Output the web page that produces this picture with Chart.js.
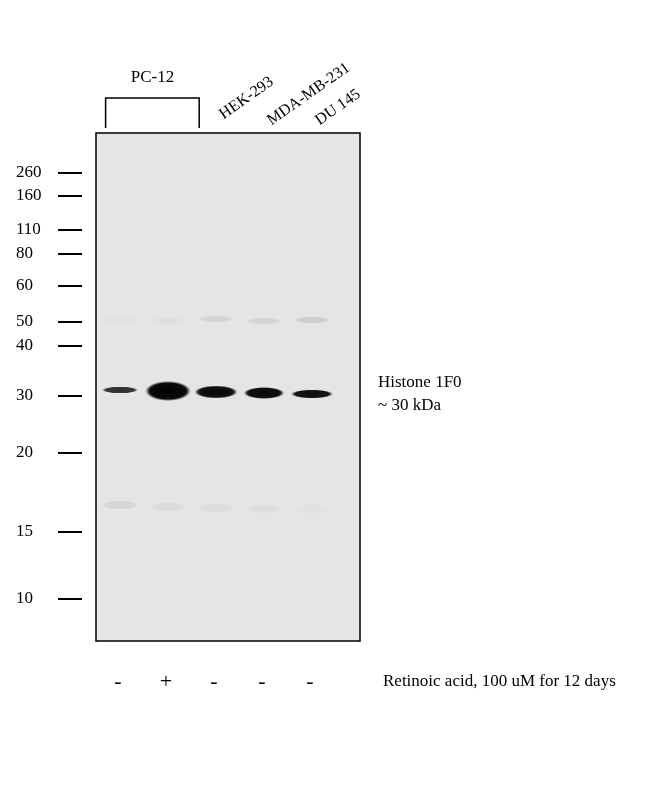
<!DOCTYPE html>
<html lang="en">
<head>
  <meta charset="UTF-8">
  <title>Histone 1F0 Western Blot</title>
  <script src="https://cdn.jsdelivr.net/npm/chart.js"></script>
  <style>
    body { margin: 0; background: #fff; }
    .chart-container { position: relative; width: 650px; height: 786px; }
  </style>
</head>
<body>
  <div class="chart-container">
    <canvas id="blotChart"></canvas>
  </div>
  <script>
    // Lanes (x = lane centre in lane units)
    const laneNames = ['PC-12 -', 'PC-12 +', 'HEK-293', 'MDA-MB-231', 'DU 145'];
    const laneCenters = [0.5, 1.5, 2.5, 3.5, 4.5];
    const treatment = ['-', '+', '-', '-', '-'];

    // Ladder: labels and migration distance from top of membrane
    const markerLabels = ['260', '160', '110', '80', '60', '50', '40', '30', '20', '15', '10'];
    const markerMigration = [40, 63, 97, 121, 153, 189, 213, 263, 320, 399, 466];

    // Main band (~30 kDa): migration, intensity, width (lane units), thickness (migration units)
    const bandMigration = [257, 258, 259, 260, 261];
    const bandIntensity = [0.8, 1.0, 0.97, 0.97, 0.95];
    const bandWidth = [0.75, 0.95, 0.9, 0.85, 0.88];
    const bandThickness = [7, 20, 13, 12, 9];

    // Faint background bands (~50 kDa and ~17 kDa)
    const faintMigration = [187, 188, 186, 188, 187];
    const faintIntensity = [0.02, 0.03, 0.07, 0.07, 0.1];
    const lowMigration = [372, 374, 375, 376, 376];
    const lowIntensity = [0.07, 0.05, 0.04, 0.03, 0.02];

    const serif = '"Liberation Serif", "Times New Roman", serif';

    const blotPlugin = {
      id: 'blot',
      beforeDatasetsDraw(chart) {
        const { ctx, chartArea: a } = chart;
        ctx.save();
        ctx.fillStyle = '#e5e5e5';
        ctx.fillRect(a.left, a.top, a.right - a.left, a.bottom - a.top);
        ctx.restore();
      },
      afterDatasetsDraw(chart) {
        const { ctx, chartArea: a, scales: { x, y } } = chart;
        ctx.save();
        const drawBand = (cx, my, w, h, alpha) => {
          const px = x.getPixelForValue(cx);
          const py = y.getPixelForValue(my);
          const rw = (x.getPixelForValue(w) - x.getPixelForValue(0)) / 2;
          const rh = Math.abs(y.getPixelForValue(h) - y.getPixelForValue(0)) / 2;
          const g = ctx.createRadialGradient(px, py, 0, px, py, rw);
          g.addColorStop(0, `rgba(0,0,0,${alpha})`);
          g.addColorStop(0.8, `rgba(0,0,0,${alpha * 0.95})`);
          g.addColorStop(1, 'rgba(0,0,0,0)');
          ctx.save();
          ctx.translate(px, py);
          ctx.scale(1, rh / rw);
          ctx.translate(-px, -py);
          ctx.fillStyle = g;
          ctx.beginPath();
          ctx.arc(px, py, rw, 0, Math.PI * 2);
          ctx.fill();
          ctx.restore();
        };
        laneCenters.forEach((c, i) => {
          drawBand(c, faintMigration[i], 0.75, 7, faintIntensity[i]);
          drawBand(c, lowMigration[i], 0.75, 9, lowIntensity[i]);
          drawBand(c, bandMigration[i], bandWidth[i], bandThickness[i], bandIntensity[i]);
        });

        // membrane border
        ctx.strokeStyle = '#000';
        ctx.lineWidth = 1.5;
        ctx.strokeRect(a.left, a.top, a.right - a.left, a.bottom - a.top);

        // ladder
        ctx.font = '17px ' + serif;
        ctx.fillStyle = '#000';
        ctx.textAlign = 'left';
        ctx.textBaseline = 'middle';
        ctx.lineWidth = 2;
        markerMigration.forEach((m, i) => {
          const py = y.getPixelForValue(m);
          ctx.beginPath();
          ctx.moveTo(a.left - 38, py);
          ctx.lineTo(a.left - 14, py);
          ctx.stroke();
          ctx.fillText(markerLabels[i], 16, py);
        });

        // top labels
        const x0 = x.getPixelForValue(0.2), x1 = x.getPixelForValue(2.15);
        ctx.lineWidth = 1.5;
        ctx.beginPath();
        ctx.moveTo(x0, 128); ctx.lineTo(x0, 98); ctx.lineTo(x1, 98); ctx.lineTo(x1, 128);
        ctx.stroke();
        ctx.textAlign = 'center';
        ctx.fillText('PC-12', (x0 + x1) / 2, 78);
        ctx.font = '16px ' + serif;
        const rot = [[2.5, 'HEK-293', 116], [3.5, 'MDA-MB-231', 122], [4.5, 'DU 145', 122]];
        rot.forEach(([c, t, base]) => {
          ctx.save();
          ctx.translate(x.getPixelForValue(c) + 5, base);
          ctx.rotate(-35 * Math.PI / 180);
          ctx.textAlign = 'left';
          ctx.fillText(t, 0, 0);
          ctx.restore();
        });

        // treatment row
        ctx.font = '22px ' + serif;
        ctx.textAlign = 'center';
        laneCenters.forEach((c, i) => ctx.fillText(treatment[i], x.getPixelForValue(c) - 2, 682));
        ctx.font = '17px ' + serif;
        ctx.textAlign = 'left';
        ctx.fillText('Retinoic acid, 100 uM for 12 days', 383, 682);

        // band annotation
        ctx.fillText('Histone 1F0', 378, 383);
        ctx.fillText('~ 30 kDa', 378, 406);
        ctx.restore();
      }
    };

    new Chart(document.getElementById('blotChart'), {
      type: 'scatter',
      data: {
        datasets: [{
          label: 'Histone 1F0',
          data: laneCenters.map((c, i) => ({ x: c, y: bandMigration[i] })),
          pointRadius: 0
        }]
      },
      options: {
        responsive: true,
        maintainAspectRatio: false,
        animation: false,
        layout: { padding: { left: 96, right: 290, top: 133, bottom: 145 } },
        scales: {
          x: { display: false, min: 0, max: 5.5 },
          y: { display: false, min: 0, max: 508, reverse: true }
        },
        plugins: { legend: { display: false }, tooltip: { enabled: false } }
      },
      plugins: [blotPlugin]
    });
  </script>
</body>
</html>
